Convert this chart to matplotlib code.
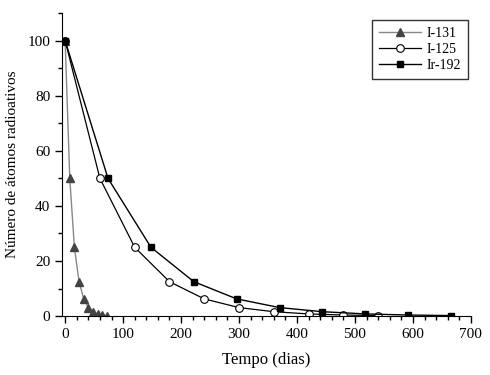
import matplotlib
matplotlib.use("Agg")
import matplotlib.pyplot as plt
from matplotlib.ticker import MultipleLocator

plt.rcParams['font.family'] = ['Liberation Serif', 'DejaVu Serif']

# dados de decaimento (percentagem de atomos restantes)
dias_i131 = [0, 8, 16, 24, 32, 40, 48, 56, 64, 72]
atomos_i131 = [100, 50, 25, 12.5, 6.25, 3.1, 1.6, 0.8, 0.4, 0.2]

dias_i125 = [0, 60, 120, 180, 240, 300, 360, 420, 480, 540]
atomos_i125 = [100, 50, 25, 12.5, 6.25, 3.1, 1.6, 0.8, 0.4, 0.2]

dias_ir192 = [0, 74, 148, 222, 296, 370, 444, 518, 592, 666]
atomos_ir192 = [100, 50, 25, 12.5, 6.25, 3.1, 1.6, 0.8, 0.4, 0.2]

fig = plt.figure(figsize=(4.9, 3.75), dpi=100)
ax = fig.add_axes([0.127, 0.157, 0.834, 0.808])

ax.plot(dias_i131, atomos_i131, color="#888888", lw=1.0, marker="^", ms=5.5,
        mfc="#444444", mec="#444444", label="I-131")
ax.plot(dias_i125, atomos_i125, color="black", lw=0.9, marker="o", ms=5.5,
        mfc="white", mec="black", mew=0.8, label="I-125")
ax.plot(dias_ir192, atomos_ir192, color="black", lw=1.0, marker="s", ms=5,
        mfc="black", mec="black", label="Ir-192")

ax.set_xlim(-5, 700)
ax.set_ylim(0, 110)
ax.xaxis.set_major_locator(MultipleLocator(100))
ax.xaxis.set_minor_locator(MultipleLocator(20))
ax.yaxis.set_minor_locator(MultipleLocator(10))
ax.set_yticks([0, 20, 40, 60, 80, 100])
ax.tick_params(which="major", length=5, width=1, labelsize=11, direction="out")
ax.tick_params(which="minor", length=3, width=1, direction="out")

ax.spines['top'].set_visible(False)
ax.spines['right'].set_visible(False)

ax.set_xlabel("Tempo (dias)", fontsize=12, labelpad=8)
ax.set_ylabel("Número de átomos radioativos", fontsize=11, labelpad=6)

leg = ax.legend(loc="upper right", fontsize=10, frameon=True, fancybox=False,
                edgecolor="black", handlelength=3.0, borderpad=0.5,
                labelspacing=0.2, handletextpad=0.4,
                bbox_to_anchor=(1.01, 1.0))
leg.get_frame().set_linewidth(1.0)

fig.savefig("out.png", dpi=100)
